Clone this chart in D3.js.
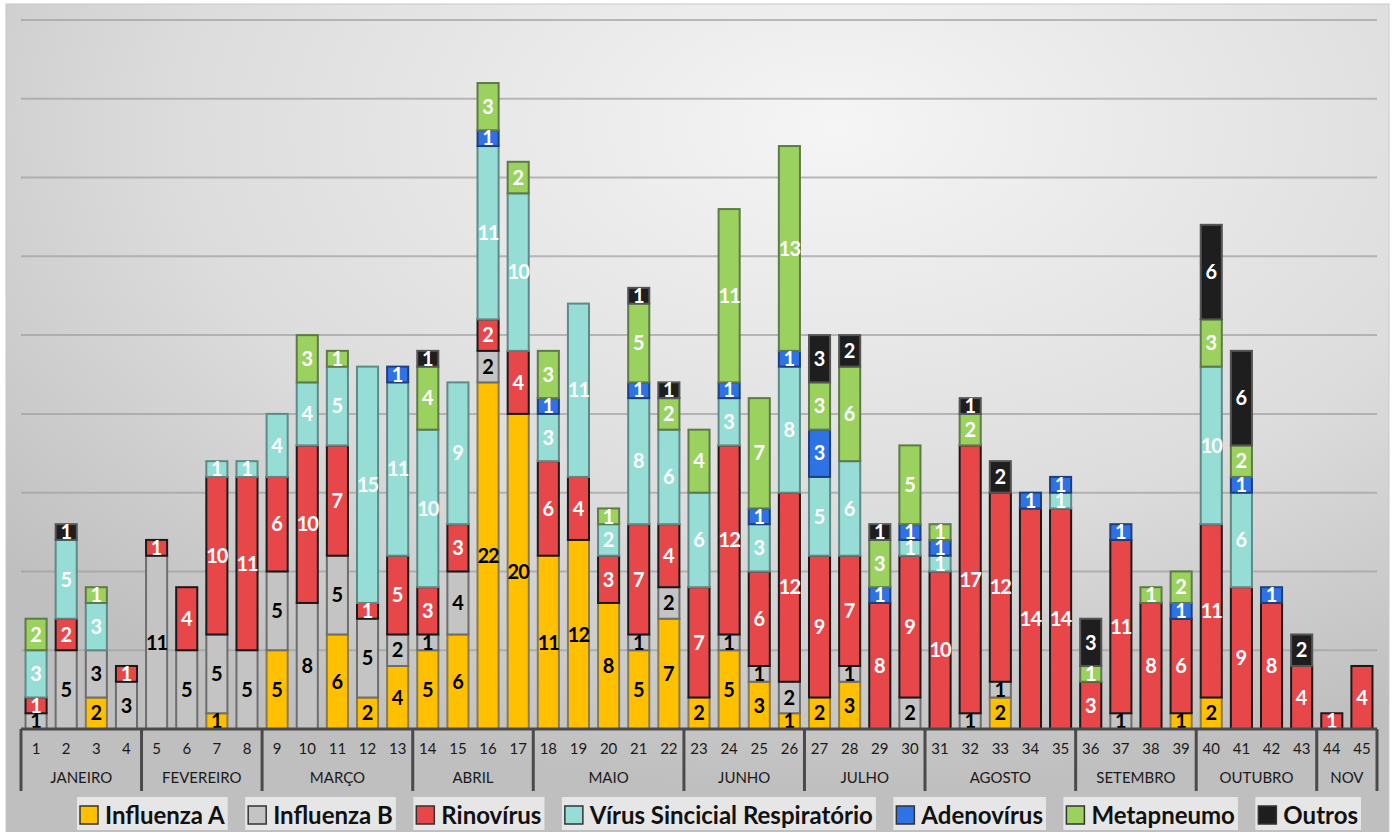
<!DOCTYPE html>
<html>
<head>
<meta charset="utf-8">
<script src="https://d3js.org/d3.v7.min.js"></script>
<style>
	body { margin: 0; background: #fff; }
	.wk { font-family: "Lato"; font-size: 15px; fill: #1a1a1a; }
	.mes { font-family: "Lato"; font-size: 15px; fill: #1a1a1a; }
	.val { font-family: "Lato"; font-size: 20px; font-weight: bold; }
	.leg { font-family: "Lato"; font-size: 24px; font-weight: bold; fill: #111; }
</style>
</head>
<body>
<script>
	// semanas epidemiologicas e meses
	var semanas = ["1","2","3","4","5","6","7","8","9","10","11","12","13","14","15","16","17","18","19","20","21","22","23","24","25","26","27","28","29","30","31","32","33","34","35","36","37","38","39","40","41","42","43","44","45"];
	var meses = ["JANEIRO", "FEVEREIRO", "MARÇO", "ABRIL", "MAIO", "JUNHO", "JULHO", "AGOSTO", "SETEMBRO", "OUTUBRO", "NOV"];
	var semanasPorMes = [4, 4, 5, 4, 5, 4, 4, 5, 4, 4, 2];

	// casos por semana (ordem de empilhamento)
	var influenzaA = [0,0,2,0,0,0,1,0,5,0,6,2,4,5,6,22,20,11,12,8,5,7,2,5,3,1,2,3,0,0,0,0,2,0,0,0,0,0,1,2,0,0,0,0,0];
	var influenzaB = [1,5,3,3,11,5,5,5,5,8,5,5,2,1,4,2,0,0,0,0,1,2,0,1,1,2,0,1,0,2,0,1,1,0,0,0,1,0,0,0,0,0,0,0,0];
	var rinovirus  = [1,2,0,1,1,4,10,11,6,10,7,1,5,3,3,2,4,6,4,3,7,4,7,12,6,12,9,7,8,9,10,17,12,14,14,3,11,8,6,11,9,8,4,1,4];
	var vsr        = [3,5,3,0,0,0,1,1,4,4,5,15,11,10,9,11,10,3,11,2,8,6,6,3,3,8,5,6,0,1,1,0,0,0,1,0,0,0,0,10,6,0,0,0,0];
	var adenovirus = [0,0,0,0,0,0,0,0,0,0,0,0,1,0,0,1,0,1,0,0,1,0,0,1,1,1,3,0,1,1,1,0,0,1,1,0,1,0,1,0,1,1,0,0,0];
	var metapneumo = [2,0,1,0,0,0,0,0,0,3,1,0,0,4,0,3,2,3,0,1,5,2,4,11,7,13,3,6,3,5,1,2,0,0,0,1,0,1,2,3,2,0,0,0,0];
	var outros     = [0,1,0,0,0,0,0,0,0,0,0,0,0,1,0,0,0,0,0,0,1,1,0,0,0,0,3,2,1,0,0,1,2,0,0,3,0,0,0,6,6,0,2,0,0];

	var nomes = ["Influenza A", "Influenza B", "Rinovírus", "Vírus Sincicial Respiratório", "Adenovírus", "Metapneumo", "Outros"];
	var valores = [influenzaA, influenzaB, rinovirus, vsr, adenovirus, metapneumo, outros];
	var cores = ["#FFC000", "#C4C4C4", "#E8474A", "#96DDD5", "#2E72E6", "#9BD15F", "#1E1E1E"];
	var bordas = ["#8a7a50", "#6e6e6e", "#1a1a1a", "#5f8a86", "#1f3f7a", "#5e7a48", "#555555"];
	var corTexto = ["#000", "#000", "#fff", "#fff", "#fff", "#fff", "#fff"];

	var width = 1393;
	var height = 832;

	// tabela para o stack
	var tabela = semanas.map(function(s, i) {
		var linha = { semana: s };
		nomes.forEach(function(n, j) { linha[n] = valores[j][i]; });
		return linha;
	});
	var series = d3.stack().keys(nomes)(tabela);

	var x = d3.scaleBand()
		.domain(semanas)
		.range([21, 1377])
		.paddingInner(0.3)
		.paddingOuter(0.15);
	var y = d3.scaleLinear()
		.domain([0, 45])
		.range([729, 20]);

	var svg = d3.select("body").append("svg")
		.attr("width", width)
		.attr("height", height);

	// fundo com gradiente
	var defs = svg.append("defs");
	var grad = defs.append("radialGradient")
		.attr("id", "fundo")
		.attr("cx", "0.6").attr("cy", "0.15").attr("r", "0.8");
	grad.append("stop").attr("offset", "0").attr("stop-color", "#f5f5f5");
	grad.append("stop").attr("offset", "0.6").attr("stop-color", "#dcdcdc");
	grad.append("stop").attr("offset", "1").attr("stop-color", "#bfbfbf");

	svg.append("rect")
		.attr("x", 6).attr("y", 4)
		.attr("width", 1383).attr("height", 830)
		.attr("fill", "url(#fundo)")
		.attr("stroke", "#c8c8c8");

	// grade
	svg.append("g")
		.selectAll("line")
		.data(d3.range(5, 46, 5))
		.enter().append("line")
		.attr("x1", 21).attr("x2", 1377)
		.attr("y1", function(d) { return y(d); })
		.attr("y2", function(d) { return y(d); })
		.attr("stroke", "#a0a0a0")
		.attr("stroke-opacity", 0.7)
		.attr("stroke-width", 2);

	// barras empilhadas
	var grupos = svg.append("g").selectAll("g")
		.data(series)
		.enter().append("g")
		.attr("fill", function(d, i) { return cores[i]; })
		.attr("stroke", function(d, i) { return bordas[i]; });

	grupos.selectAll("rect")
		.data(function(d) { return d.filter(function(p) { return p[1] > p[0]; }); })
		.enter().append("rect")
		.attr("x", function(d) { return x(d.data.semana); })
		.attr("y", function(d) { return y(d[1]); })
		.attr("width", x.bandwidth())
		.attr("height", function(d) { return y(d[0]) - y(d[1]); })
		.attr("stroke-width", 2);

	// rotulos dos valores
	series.forEach(function(s, i) {
		svg.append("g").selectAll("text")
			.data(s.filter(function(p) { return p[1] > p[0]; }))
			.enter().append("text")
			.attr("class", "val")
			.attr("x", function(d) { return x(d.data.semana) + x.bandwidth() / 2; })
			.attr("y", function(d) { return y((d[0] + d[1]) / 2); })
			.attr("dy", "0.36em")
			.attr("text-anchor", "middle")
			.attr("fill", corTexto[i])
			.style("letter-spacing", function(d) { return (d[1] - d[0]) >= 10 ? "-1px" : "0"; })
			.text(function(d) { return d[1] - d[0]; });
	});

	// eixo x: semanas e meses
	var passo = x.step();
	svg.append("line")
		.attr("x1", 21).attr("x2", 1377)
		.attr("y1", 729).attr("y2", 729)
		.attr("stroke", "#4a4a4a").attr("stroke-width", 3);

	svg.append("g").selectAll("text")
		.data(semanas)
		.enter().append("text")
		.attr("class", "wk")
		.attr("x", function(d) { return x(d) + x.bandwidth() / 2; })
		.attr("y", 754)
		.attr("text-anchor", "middle")
		.text(function(d) { return d; });

	var inicio = 0;
	var divisas = [x(semanas[0]) - passo * 0.15];
	meses.forEach(function(m, i) {
		var a = x(semanas[inicio]) - passo * 0.15;
		var fim = inicio + semanasPorMes[i] - 1;
		var b = x(semanas[fim]) + x.bandwidth() + passo * 0.15;
		divisas.push(b);
		svg.append("text")
			.attr("class", "mes")
			.attr("x", (a + b) / 2)
			.attr("y", 783)
			.attr("text-anchor", "middle")
			.text(m);
		inicio = fim + 1;
	});

	svg.append("g").selectAll("line")
		.data(divisas)
		.enter().append("line")
		.attr("x1", function(d) { return d; })
		.attr("x2", function(d) { return d; })
		.attr("y1", 729).attr("y2", 791)
		.attr("stroke", "#4a4a4a").attr("stroke-width", 3);

	// legenda
	var leg = svg.append("g");
	var itens = leg.selectAll("g")
		.data(nomes)
		.enter().append("g");
	itens.append("rect").attr("class", "bg")
		.attr("fill", "#e6e6e6").attr("stroke", "none");
	itens.append("rect").attr("class", "sw")
		.attr("width", 18).attr("height", 18)
		.attr("y", 806)
		.attr("fill", function(d, i) { return cores[i]; })
		.attr("stroke", "#333").attr("stroke-width", 1.5);
	itens.append("text")
		.attr("class", "leg")
		.attr("y", 824)
		.text(function(d) { return d; });

	var larguras = [];
	itens.select("text").each(function() { larguras.push(this.getComputedTextLength()); });
	var total = d3.sum(larguras) + nomes.length * 25;
	var gap = (1278 - total) / (nomes.length - 1);
	var cx = 80;
	itens.each(function(d, i) {
		var g = d3.select(this);
		g.select(".sw").attr("x", cx);
		g.select("text").attr("x", cx + 25);
		g.select(".bg")
			.attr("x", cx - 3).attr("y", 797)
			.attr("width", 25 + larguras[i] + 6).attr("height", 33);
		cx += 25 + larguras[i] + gap;
	});
</script>
</body>
</html>
